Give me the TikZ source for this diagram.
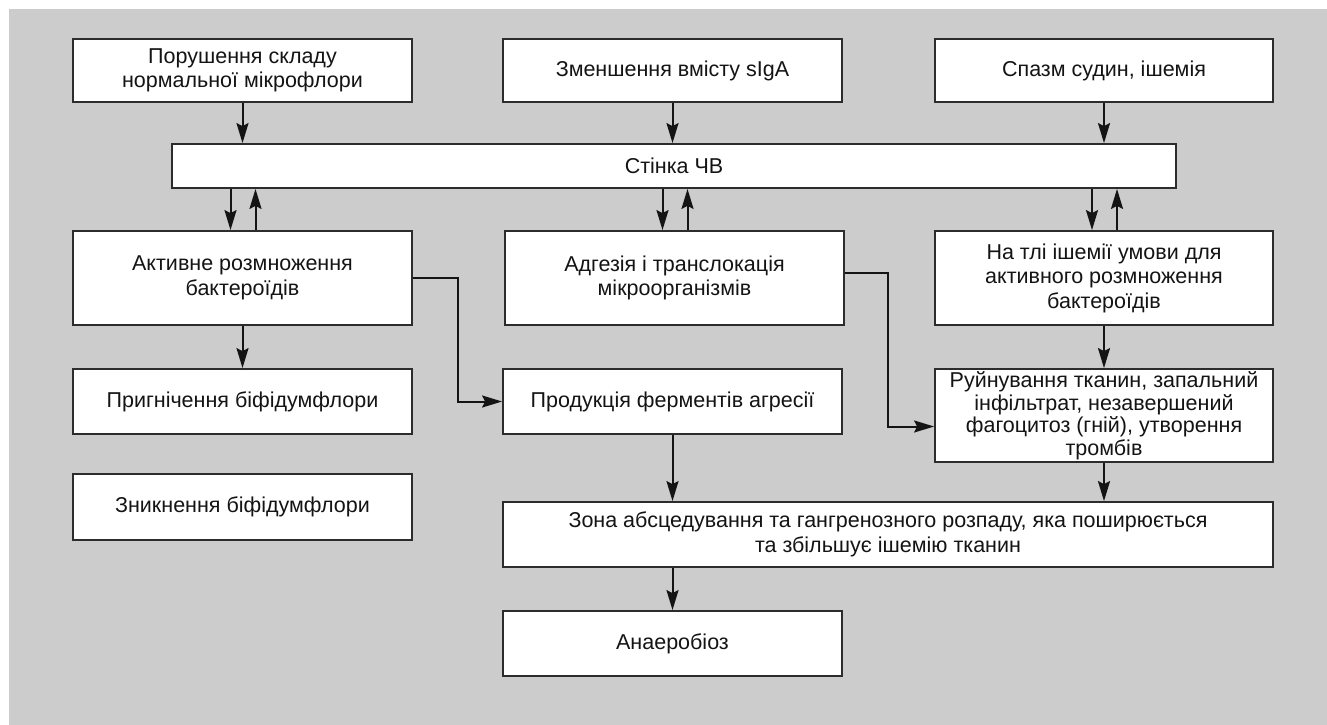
\documentclass[tikz,border=0pt]{standalone}
\usepackage{fontspec}
\setmainfont{Liberation Sans}
\usetikzlibrary{arrows.meta}
\definecolor{bg}{HTML}{CCCCCC}
\definecolor{ink}{HTML}{141414}
\tikzset{
  box/.style={draw=ink!90, line width=1.8pt, fill=white, align=center, inner sep=1pt,
    font=\fontsize{21.5}{24.5}\selectfont, text=ink},
  arr/.style={draw=ink, line width=2pt, -{Stealth[length=20pt,width=12pt,inset=3pt]}}
}
\begin{document}
\begin{tikzpicture}[x=1pt,y=-1pt]
\useasboundingbox (0,0) rectangle (1327,725);
\fill[white] (0,0) rectangle (1327,725);
\fill[bg] (9,9) rectangle (1327,725);
% row 1
\node[box, minimum width=339pt, minimum height=63pt] (a1) at (242.5,70.5) {Порушення складу\\нормальної мікрофлори};
\node[box, minimum width=339pt, minimum height=63pt] (a2) at (672.5,70.5) {Зменшення вмісту sIgA};
\node[box, minimum width=338pt, minimum height=63pt] (a3) at (1104,70.5) {Спазм судин, ішемія};
% wall
\node[box, minimum width=1004pt, minimum height=44pt] (w) at (674,166) {Стінка ЧВ};
% row 2
\node[box, minimum width=339pt, minimum height=94pt] (b1) at (242.5,278) {Активне розмноження\\бактероїдів};
\node[box, minimum width=339pt, minimum height=94pt] (b2) at (674.5,278) {Адгезія і транслокація\\мікроорганізмів};
\node[box, minimum width=338pt, minimum height=94pt] (b3) at (1104,278) {На тлі ішемії умови для\\активного розмноження\\бактероїдів};
% row 3
\node[box, minimum width=339pt, minimum height=65pt] (c1) at (242.5,401.5) {Пригнічення біфідумфлори};
\node[box, minimum width=339pt, minimum height=65pt] (c2) at (672.5,401.5) {Продукція ферментів агресії};
\node[box, minimum width=338pt, minimum height=93pt, inner sep=0pt, font=\fontsize{21.5}{22.5}\selectfont] (c3) at (1104,415.5) {Руйнування тканин, запальний\\інфільтрат, незавершений\\фагоцитоз (гній), утворення\\тромбів};
% row 4
\node[box, minimum width=339pt, minimum height=66pt] (d1) at (242.5,507) {Зникнення біфідумфлори};
\node[box, minimum width=770pt, minimum height=65pt] (z) at (888,534.5) {Зона абсцедування та гангренозного розпаду, яка поширюється\\та збільшує ішемію тканин};
\node[box, minimum width=339pt, minimum height=65pt] (an) at (672.5,643.5) {Анаеробіоз};
% arrows top -> wall
\draw[arr] (a1.south) -- (a1.south |- w.north);
\draw[arr] (a2.south) -- (a2.south |- w.north);
\draw[arr] (a3.south) -- (a3.south |- w.north);
% wall <-> row 2
\draw[arr] ([xshift=-12pt]b1.north |- w.south) -- ([xshift=-12pt]b1.north);
\draw[arr] ([xshift=13pt]b1.north) -- ([xshift=13pt]b1.north |- w.south);
\draw[arr] ([xshift=-12pt]b2.north |- w.south) -- ([xshift=-12pt]b2.north);
\draw[arr] ([xshift=13pt]b2.north) -- ([xshift=13pt]b2.north |- w.south);
\draw[arr] ([xshift=-12pt]b3.north |- w.south) -- ([xshift=-12pt]b3.north);
\draw[arr] ([xshift=13pt]b3.north) -- ([xshift=13pt]b3.north |- w.south);
% row 2 -> row 3
\draw[arr] (b1.south) -- (c1.north);
\draw[arr] (b3.south) -- (b3.south |- c3.north);
\draw[arr] (b1.east) -- ++(45pt,0) |- (c2.west);
\draw[arr] ([yshift=5pt]b2.east) -- ++(43pt,0) |- ([yshift=-11pt]c3.west);
% to zone
\draw[arr] (c2.south) -- (c2.south |- z.north);
\draw[arr] (c3.south) -- (c3.south |- z.north);
\draw[arr] (an.north |- z.south) -- (an.north);
\end{tikzpicture}
\end{document}
